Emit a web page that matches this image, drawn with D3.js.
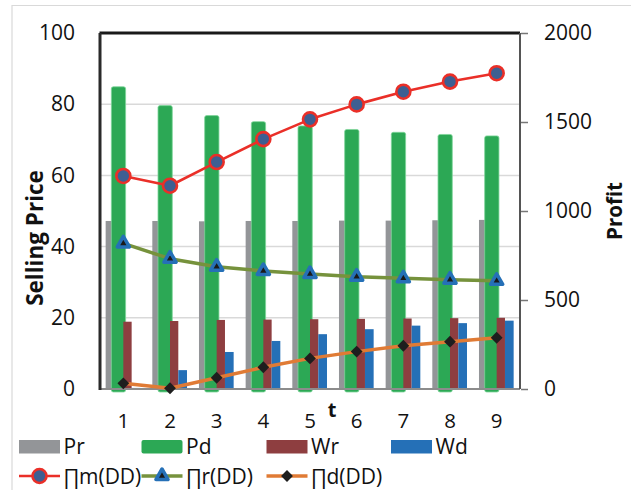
<!DOCTYPE html>
<html><head><meta charset="utf-8">
<script src="https://cdn.jsdelivr.net/npm/d3@7/dist/d3.min.js"></script>
<style>
html,body{margin:0;padding:0;background:#fff;}
svg{display:block;font-family:"Open Sans",sans-serif;}
</style></head>
<body>
<svg id="c" width="631" height="490"></svg>
<script>
// ---- data ----
const categories = [1,2,3,4,5,6,7,8,9];
const Pr = [47.2,47.2,47.1,47.2,47.2,47.3,47.3,47.4,47.5];
const Pd = [84.9,79.6,76.8,75.1,73.9,72.9,72.1,71.5,71.1];
const Wr = [18.9,19.1,19.4,19.5,19.6,19.7,19.8,19.9,20.0];
const Wd = [0.3,5.3,10.4,13.5,15.4,16.8,17.8,18.5,19.2];
const PiM = [1197,1142,1275,1404,1515,1599,1670,1727,1774];
const PiR = [818,732,687,663,646,631,622,614,608];
const PiD = [32,4,63,122,172,210,243,266,288];
const leftTicks = [0,20,40,60,80,100];
const rightTicks = [0,500,1000,1500,2000];
const barNames = ["Pr","Pd","Wr","Wd"];
const lineNames = ["∏m(DD)","∏r(DD)","∏d(DD)"];

// ---- layout / style ----
const svg = d3.select("#c");
const L=100, R=520, T=33, B=389;
const x = d3.scaleBand().domain(categories).range([L,R]).padding(0);
const yL = d3.scaleLinear().domain([0,100]).range([B,T]);
const yR = d3.scaleLinear().domain([0,2000]).range([B,T]);
const bw = x.bandwidth();
const cx = d => x(d)+bw/2;

// outer chart frame
svg.append("line").attr("x1",12).attr("x2",12).attr("y1",5).attr("y2",490).attr("stroke","#d9d9d9").attr("stroke-width",1.2);
svg.append("line").attr("x1",12).attr("x2",631).attr("y1",5.5).attr("y2",5.5).attr("stroke","#d9d9d9").attr("stroke-width",1.2);

// gridlines
svg.append("g").selectAll("line").data(leftTicks.filter(t=>t>0&&t<100)).join("line")
  .attr("x1",L).attr("x2",R).attr("y1",d=>yL(d)).attr("y2",d=>yL(d))
  .attr("stroke","#d9d9d9").attr("stroke-width",1.5);

const barSpec = [
  {name:"Pr", vals:Pr, off:-0.379, w:0.30, color:"#939598"},
  {name:"Pd", vals:Pd, off:-0.257, w:0.306, color:"#2ca855"},
  {name:"Wr", vals:Wr, off:0.0, w:0.178, color:"#8e3e40"},
  {name:"Wd", vals:Wd, off:0.178, w:0.186, color:"#2570b7"}
];
barSpec.forEach(s=>{
  const g = svg.append("g");
  const sel = g.selectAll("rect").data(categories.map((c,i)=>({c, v:s.vals[i]}))).join("rect")
    .attr("x",d=>cx(d.c)+s.off*bw)
    .attr("width",s.w*bw)
    .attr("y",d=>yL(d.v))
    .attr("height",d=>s.name==="Pd"? B+3-yL(d.v) : B-yL(d.v))
    .attr("fill",s.color);
  if(s.name==="Pd"){ sel.attr("rx",2).attr("stroke","#7fd69a").attr("stroke-width",0.8); }
});

// frame
svg.append("line").attr("x1",L).attr("x2",R).attr("y1",B).attr("y2",B).attr("stroke","#8c8c8c").attr("stroke-width",2);
svg.append("line").attr("x1",L-0.5).attr("x2",R).attr("y1",T).attr("y2",T).attr("stroke","#1a1a1a").attr("stroke-width",3);
svg.append("line").attr("x1",L).attr("x2",L).attr("y1",T).attr("y2",B+1).attr("stroke","#2a2a2a").attr("stroke-width",3);
svg.append("line").attr("x1",R).attr("x2",R).attr("y1",T).attr("y2",B).attr("stroke","#555",).attr("stroke-width",2);

// lines
const lineSpec = [
  {vals:PiM, color:"#ea2f28", w:2.6, marker:"circle"},
  {vals:PiR, color:"#76923c", w:3.5, marker:"triangle"},
  {vals:PiD, color:"#e07b35", w:3.5, marker:"diamond"}
];
function drawMarker(g, type, px, py){
  if(type==="circle"){
    g.append("circle").attr("cx",px).attr("cy",py).attr("r",7).attr("fill","#3d5f92").attr("stroke","#ea2f28").attr("stroke-width",2.6);
  } else if(type==="triangle"){
    g.append("path").attr("d",d3.symbol(d3.symbolTriangle,64)()).attr("transform",`translate(${px},${py})`)
      .attr("fill","#1a1a1a").attr("stroke","#2570b7").attr("stroke-width",3.5).attr("stroke-linejoin","round");
  } else {
    g.append("path").attr("d",d3.symbol(d3.symbolSquare,70)()).attr("transform",`translate(${px},${py}) rotate(45)`)
      .attr("fill","#1e1e1e");
  }
}
lineSpec.forEach(s=>{
  const g = svg.append("g");
  g.append("path").datum(categories.map((c,i)=>[cx(c), yR(s.vals[i])]))
    .attr("d",d3.line()).attr("fill","none").attr("stroke",s.color).attr("stroke-width",s.w).attr("stroke-linejoin","round");
  categories.forEach((c,i)=>drawMarker(g, s.marker, cx(c), yR(s.vals[i])));
});

// axes
const fs = "21px";
const axL = svg.append("g").attr("transform",`translate(${L},0)`)
  .call(d3.axisLeft(yL).tickValues(leftTicks).tickSize(0).tickPadding(25));
const axR = svg.append("g").attr("transform",`translate(${R+1},0)`)
  .call(d3.axisRight(yR).tickValues(rightTicks).tickFormat(d3.format("d")).tickSize(7).tickPadding(16));
const axB = svg.append("g").attr("transform",`translate(0,${B})`)
  .call(d3.axisBottom(x).tickSize(0).tickPadding(24));
[axL,axR,axB].forEach(a=>{
  a.select(".domain").remove();
  a.selectAll("text").attr("font-family","'Open Sans',sans-serif").attr("font-size",fs).attr("fill","#111");
});
axB.selectAll("text").attr("font-size","20.5px");
axR.selectAll("line").attr("stroke","#777").attr("stroke-width",1.5);

// axis titles
svg.append("text").attr("transform","translate(43,238) rotate(-90)").attr("text-anchor","middle")
  .attr("font-size","22.5px").attr("font-weight","bold").attr("fill","#111").text("Selling Price");
svg.append("text").attr("transform","translate(622,211) rotate(-90)").attr("text-anchor","middle")
  .attr("font-size","20.5px").attr("font-weight","bold").attr("fill","#111").text("Profit");
svg.append("text").attr("x",332).attr("y",417).attr("text-anchor","middle")
  .attr("font-size","20px").attr("font-weight","bold").attr("fill","#111").text("t");

// legend
const legBarX = [19,141.5,266.5,391];
const lg1 = svg.append("g").selectAll("g").data(barNames).join("g")
  .attr("transform",(d,i)=>`translate(${legBarX[i]},440)`);
lg1.append("rect").attr("width",41).attr("height",13.5).attr("rx",(d,i)=>i===1?2:0)
  .attr("fill",(d,i)=>barSpec[i].color);
lg1.append("text").attr("x",44.5).attr("y",14).attr("font-size",fs).attr("fill","#111").text(d=>d);

const lg2 = svg.append("g").selectAll("g").data(lineNames).join("g")
  .attr("transform",(d,i)=>`translate(${legBarX[i]},476)`);
lg2.append("line").attr("x1",0).attr("x2",41).attr("stroke",(d,i)=>lineSpec[i].color).attr("stroke-width",(d,i)=>lineSpec[i].w);
lg2.each(function(d,i){ drawMarker(d3.select(this), lineSpec[i].marker, 20.5, 0); });
lg2.append("text").attr("x",44.5).attr("y",7.5).attr("font-size",fs).attr("fill","#111").text(d=>d);
</script>
</body></html>
